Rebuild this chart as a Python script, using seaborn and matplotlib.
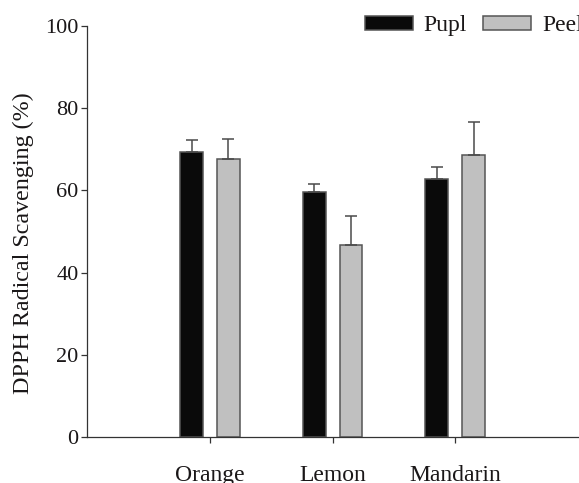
import pandas as pd
import matplotlib
matplotlib.use('Agg')
import matplotlib.pyplot as plt
import seaborn as sns
import numpy as np

fruits = ['Orange', 'Lemon', 'Mandarin']
pupl = [69.3, 59.6, 62.8]
peel = [67.6, 46.8, 68.6]
pupl_err = [3.0, 1.9, 2.8]
peel_err = [4.9, 7.0, 8.1]

data = pd.DataFrame({
    'Fruit': fruits * 2,
    'Part': ['Pupl'] * 3 + ['Peel'] * 3,
    'Value': pupl + peel,
})

sns.set_style('ticks')
plt.rcParams['font.family'] = ['Liberation Serif', 'DejaVu Serif']
txt = '#1a1718'

fig = plt.figure(figsize=(5.79, 4.83), dpi=100)
ax = fig.add_axes([0.151, 0.0952, 0.847, 0.851])

sns.barplot(data=data, x='Fruit', y='Value', hue='Part', order=fruits,
            palette={'Pupl': '#0a0a0a', 'Peel': '#c0c0c0'},
            width=0.6, gap=0.38, errorbar=None, edgecolor='#555555',
            linewidth=1.1, saturation=1, ax=ax)

# upper-only error bars
for cont, err in zip(ax.containers, [pupl_err, peel_err]):
    xs = [b.get_x() + b.get_width() / 2 for b in cont]
    hs = [b.get_height() for b in cont]
    ax.errorbar(xs, hs, yerr=[np.zeros(len(err)), err], fmt='none',
                ecolor='#4a4a4a', elinewidth=1.1, capsize=4.2, capthick=1.1,
                zorder=1)

ax.set_xlim(-1, 3)
ax.set_ylim(0, 100)
ax.set_yticks([0, 20, 40, 60, 80, 100])
ax.set_xlabel('')
ax.set_ylabel('DPPH Radical Scavenging (%)', fontsize=17.3, color=txt)
ax.yaxis.set_label_coords(-0.108, 0.472)
ax.tick_params(axis='y', labelsize=16, length=4, width=0.9, pad=2.5,
               colors='#333333', labelcolor=txt)
ax.tick_params(axis='x', labelsize=17, length=4.3, width=0.9, pad=16,
               colors='#333333', labelcolor=txt)
sns.despine(ax=ax)
for s in ['left', 'bottom']:
    ax.spines[s].set_color('#333333')
    ax.spines[s].set_linewidth(0.9)

handles, labels = ax.get_legend_handles_labels()
ax.legend(handles, labels, loc='center right', bbox_to_anchor=(1.01, 1.0),
          ncol=2, frameon=False, fontsize=17, handlelength=2.05,
          handleheight=0.55, handletextpad=0.45, columnspacing=0.68,
          borderaxespad=0, borderpad=0, labelcolor=txt)

fig.savefig('out.png', dpi=100)
